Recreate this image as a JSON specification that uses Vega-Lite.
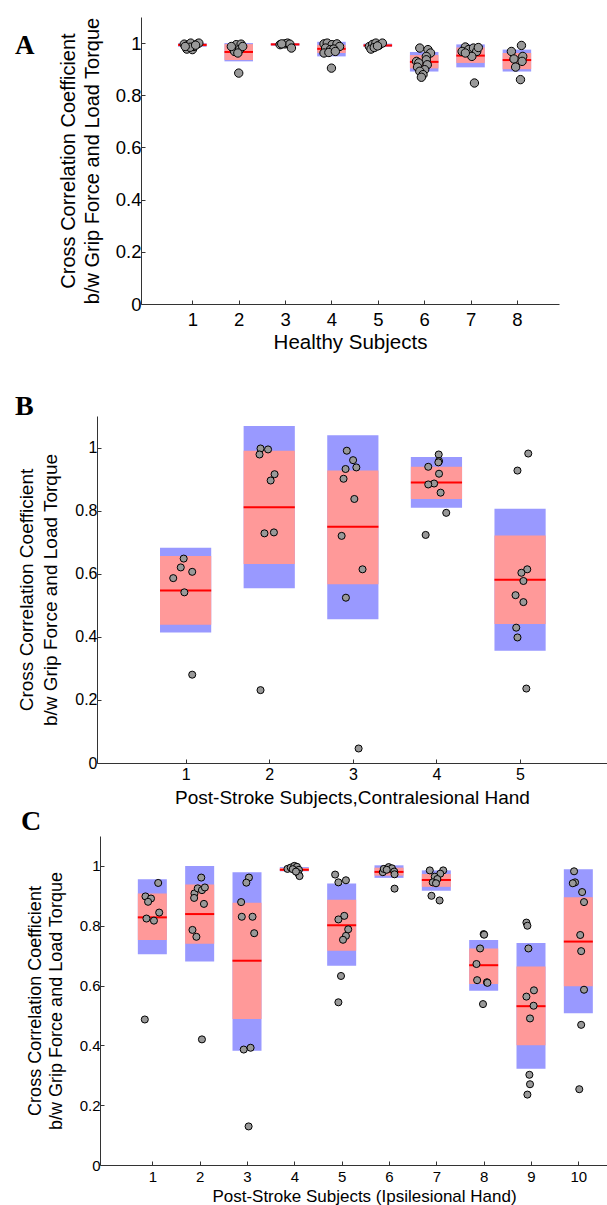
{
  "$schema": "https://vega.github.io/schema/vega-lite/v6.json",
  "padding": {"left": 15, "top": 17, "right": 0, "bottom": 0},
  "autosize": {"type": "pad"},
  "background": "white",
  "spacing": 40,
  "datasets": {
    "barsA": [
      {"subject": 1, "mean": 0.993, "pink_lo": 0.988, "pink_hi": 0.998, "blue_lo": 0.986, "blue_hi": 1.0},
      {"subject": 2, "mean": 0.966, "pink_lo": 0.935, "pink_hi": 0.996, "blue_lo": 0.930, "blue_hi": 1.0},
      {"subject": 3, "mean": 0.995, "pink_lo": 0.992, "pink_hi": 0.998, "blue_lo": 0.990, "blue_hi": 1.0},
      {"subject": 4, "mean": 0.978, "pink_lo": 0.962, "pink_hi": 0.993, "blue_lo": 0.949, "blue_hi": 1.005},
      {"subject": 5, "mean": 0.991, "pink_lo": 0.987, "pink_hi": 0.995, "blue_lo": 0.985, "blue_hi": 0.998},
      {"subject": 6, "mean": 0.928, "pink_lo": 0.903, "pink_hi": 0.954, "blue_lo": 0.891, "blue_hi": 0.966},
      {"subject": 7, "mean": 0.952, "pink_lo": 0.924, "pink_hi": 0.983, "blue_lo": 0.907, "blue_hi": 0.995},
      {"subject": 8, "mean": 0.935, "pink_lo": 0.900, "pink_hi": 0.962, "blue_lo": 0.891, "blue_hi": 0.975}
    ],
    "pointsA": [
      {"subject": 1, "x": 0.825, "r": 0.996}, {"subject": 1, "x": 0.895, "r": 0.99}, {"subject": 1, "x": 0.965, "r": 1.0},
      {"subject": 1, "x": 0.881, "r": 0.977}, {"subject": 1, "x": 1.0, "r": 0.975}, {"subject": 1, "x": 1.035, "r": 0.987},
      {"subject": 1, "x": 1.105, "r": 0.996}, {"subject": 1, "x": 1.14, "r": 1.0}, {"subject": 1, "x": 0.951, "r": 0.984},
      {"subject": 1, "x": 0.846, "r": 0.987}, {"subject": 1, "x": 1.07, "r": 0.992},
      {"subject": 2, "x": 1.876, "r": 0.981}, {"subject": 2, "x": 1.946, "r": 0.994}, {"subject": 2, "x": 2.051, "r": 0.996},
      {"subject": 2, "x": 1.911, "r": 0.968}, {"subject": 2, "x": 2.016, "r": 0.975}, {"subject": 2, "x": 2.086, "r": 0.987},
      {"subject": 2, "x": 1.981, "r": 0.962}, {"subject": 2, "x": 1.841, "r": 0.987}, {"subject": 2, "x": 2.0, "r": 0.885},
      {"subject": 3, "x": 2.892, "r": 0.994}, {"subject": 3, "x": 2.997, "r": 0.997}, {"subject": 3, "x": 3.053, "r": 1.0},
      {"subject": 3, "x": 3.102, "r": 0.996}, {"subject": 3, "x": 3.137, "r": 0.981}, {"subject": 3, "x": 2.927, "r": 0.997},
      {"subject": 4, "x": 3.839, "r": 0.997}, {"subject": 4, "x": 3.909, "r": 1.0}, {"subject": 4, "x": 4.014, "r": 0.994},
      {"subject": 4, "x": 4.119, "r": 0.997}, {"subject": 4, "x": 4.175, "r": 0.987}, {"subject": 4, "x": 3.874, "r": 0.981},
      {"subject": 4, "x": 3.979, "r": 0.975}, {"subject": 4, "x": 4.049, "r": 0.977}, {"subject": 4, "x": 3.839, "r": 0.962},
      {"subject": 4, "x": 3.944, "r": 0.964}, {"subject": 4, "x": 4.084, "r": 0.968}, {"subject": 4, "x": 4.0, "r": 0.904},
      {"subject": 5, "x": 4.818, "r": 0.987}, {"subject": 5, "x": 4.888, "r": 0.995}, {"subject": 5, "x": 4.958, "r": 1.0},
      {"subject": 5, "x": 5.028, "r": 0.992}, {"subject": 5, "x": 5.098, "r": 1.0}, {"subject": 5, "x": 4.853, "r": 0.977},
      {"subject": 5, "x": 4.923, "r": 0.983}, {"subject": 5, "x": 4.993, "r": 0.989},
      {"subject": 6, "x": 5.905, "r": 0.981}, {"subject": 6, "x": 6.081, "r": 0.975}, {"subject": 6, "x": 6.137, "r": 0.962},
      {"subject": 6, "x": 6.046, "r": 0.949}, {"subject": 6, "x": 5.835, "r": 0.930}, {"subject": 6, "x": 6.046, "r": 0.936},
      {"subject": 6, "x": 5.884, "r": 0.924}, {"subject": 6, "x": 6.067, "r": 0.917}, {"subject": 6, "x": 5.856, "r": 0.908},
      {"subject": 6, "x": 6.011, "r": 0.898}, {"subject": 6, "x": 5.905, "r": 0.892}, {"subject": 6, "x": 5.975, "r": 0.879},
      {"subject": 6, "x": 5.94, "r": 0.869},
      {"subject": 7, "x": 6.888, "r": 0.985}, {"subject": 7, "x": 6.818, "r": 0.968}, {"subject": 7, "x": 6.958, "r": 0.975},
      {"subject": 7, "x": 7.063, "r": 0.981}, {"subject": 7, "x": 7.133, "r": 0.968}, {"subject": 7, "x": 7.028, "r": 0.949},
      {"subject": 7, "x": 7.168, "r": 0.983}, {"subject": 7, "x": 6.888, "r": 0.962}, {"subject": 7, "x": 7.084, "r": 0.847},
      {"subject": 8, "x": 8.098, "r": 0.991}, {"subject": 8, "x": 7.881, "r": 0.968}, {"subject": 8, "x": 8.126, "r": 0.949},
      {"subject": 8, "x": 7.937, "r": 0.939}, {"subject": 8, "x": 8.112, "r": 0.930}, {"subject": 8, "x": 7.972, "r": 0.908},
      {"subject": 8, "x": 8.077, "r": 0.86}
    ],
    "barsB": [
      {"subject": 1, "mean": 0.547, "pink_lo": 0.438, "pink_hi": 0.656, "blue_lo": 0.414, "blue_hi": 0.682},
      {"subject": 2, "mean": 0.811, "pink_lo": 0.631, "pink_hi": 0.990, "blue_lo": 0.554, "blue_hi": 1.068},
      {"subject": 3, "mean": 0.749, "pink_lo": 0.567, "pink_hi": 0.927, "blue_lo": 0.456, "blue_hi": 1.039},
      {"subject": 4, "mean": 0.889, "pink_lo": 0.837, "pink_hi": 0.939, "blue_lo": 0.809, "blue_hi": 0.970},
      {"subject": 5, "mean": 0.581, "pink_lo": 0.441, "pink_hi": 0.721, "blue_lo": 0.356, "blue_hi": 0.806}
    ],
    "pointsB": [
      {"subject": 1, "x": 0.977, "r": 0.648}, {"subject": 1, "x": 0.942, "r": 0.620}, {"subject": 1, "x": 1.079, "r": 0.606},
      {"subject": 1, "x": 0.852, "r": 0.586}, {"subject": 1, "x": 0.985, "r": 0.541}, {"subject": 1, "x": 1.079, "r": 0.280},
      {"subject": 2, "x": 1.896, "r": 0.997}, {"subject": 2, "x": 1.986, "r": 0.994}, {"subject": 2, "x": 1.884, "r": 0.978},
      {"subject": 2, "x": 2.064, "r": 0.9155}, {"subject": 2, "x": 2.017, "r": 0.8955}, {"subject": 2, "x": 1.943, "r": 0.728},
      {"subject": 2, "x": 2.056, "r": 0.731}, {"subject": 2, "x": 1.896, "r": 0.231},
      {"subject": 3, "x": 2.928, "r": 0.990}, {"subject": 3, "x": 3.003, "r": 0.960}, {"subject": 3, "x": 3.042, "r": 0.937},
      {"subject": 3, "x": 2.913, "r": 0.932}, {"subject": 3, "x": 2.889, "r": 0.901}, {"subject": 3, "x": 3.018, "r": 0.837},
      {"subject": 3, "x": 2.866, "r": 0.720}, {"subject": 3, "x": 3.116, "r": 0.614}, {"subject": 3, "x": 2.917, "r": 0.524},
      {"subject": 3, "x": 3.069, "r": 0.046},
      {"subject": 4, "x": 4.027, "r": 0.978}, {"subject": 4, "x": 4.031, "r": 0.957}, {"subject": 4, "x": 4.023, "r": 0.953},
      {"subject": 4, "x": 3.902, "r": 0.939}, {"subject": 4, "x": 4.031, "r": 0.917}, {"subject": 4, "x": 3.972, "r": 0.886},
      {"subject": 4, "x": 3.902, "r": 0.883}, {"subject": 4, "x": 4.05, "r": 0.857}, {"subject": 4, "x": 4.117, "r": 0.793},
      {"subject": 4, "x": 3.871, "r": 0.723},
      {"subject": 5, "x": 5.098, "r": 0.981}, {"subject": 5, "x": 4.969, "r": 0.927}, {"subject": 5, "x": 5.086, "r": 0.614},
      {"subject": 5, "x": 5.016, "r": 0.603}, {"subject": 5, "x": 5.04, "r": 0.577}, {"subject": 5, "x": 4.946, "r": 0.532},
      {"subject": 5, "x": 5.04, "r": 0.510}, {"subject": 5, "x": 4.954, "r": 0.429}, {"subject": 5, "x": 4.969, "r": 0.398},
      {"subject": 5, "x": 5.075, "r": 0.236}
    ],
    "barsC": [
      {"subject": 1, "mean": 0.828, "pink_lo": 0.752, "pink_hi": 0.908, "blue_lo": 0.705, "blue_hi": 0.955},
      {"subject": 2, "mean": 0.839, "pink_lo": 0.740, "pink_hi": 0.938, "blue_lo": 0.680, "blue_hi": 1.0},
      {"subject": 3, "mean": 0.683, "pink_lo": 0.488, "pink_hi": 0.877, "blue_lo": 0.382, "blue_hi": 0.979},
      {"subject": 4, "mean": 0.987, "pink_lo": 0.984, "pink_hi": 0.993, "blue_lo": 0.982, "blue_hi": 0.996},
      {"subject": 5, "mean": 0.802, "pink_lo": 0.716, "pink_hi": 0.887, "blue_lo": 0.666, "blue_hi": 0.941},
      {"subject": 6, "mean": 0.980, "pink_lo": 0.9675, "pink_hi": 0.994, "blue_lo": 0.960, "blue_hi": 1.002},
      {"subject": 7, "mean": 0.953, "pink_lo": 0.930, "pink_hi": 0.973, "blue_lo": 0.917, "blue_hi": 0.985},
      {"subject": 8, "mean": 0.668, "pink_lo": 0.605, "pink_hi": 0.724, "blue_lo": 0.583, "blue_hi": 0.752},
      {"subject": 9, "mean": 0.531, "pink_lo": 0.400, "pink_hi": 0.664, "blue_lo": 0.322, "blue_hi": 0.742},
      {"subject": 10, "mean": 0.747, "pink_lo": 0.5975, "pink_hi": 0.895, "blue_lo": 0.507, "blue_hi": 0.989}
    ],
    "pointsC": [
      {"subject": 1, "x": 1.124, "r": 0.943}, {"subject": 1, "x": 0.855, "r": 0.898}, {"subject": 1, "x": 0.972, "r": 0.891},
      {"subject": 1, "x": 0.910, "r": 0.880}, {"subject": 1, "x": 1.145, "r": 0.844}, {"subject": 1, "x": 0.876, "r": 0.824},
      {"subject": 1, "x": 1.034, "r": 0.817}, {"subject": 1, "x": 0.841, "r": 0.4865},
      {"subject": 2, "x": 2.034, "r": 0.961}, {"subject": 2, "x": 1.890, "r": 0.908}, {"subject": 2, "x": 1.883, "r": 0.893},
      {"subject": 2, "x": 1.959, "r": 0.925}, {"subject": 2, "x": 2.048, "r": 0.919}, {"subject": 2, "x": 2.11, "r": 0.928},
      {"subject": 2, "x": 2.09, "r": 0.873}, {"subject": 2, "x": 1.848, "r": 0.786}, {"subject": 2, "x": 1.931, "r": 0.763},
      {"subject": 2, "x": 2.048, "r": 0.420},
      {"subject": 3, "x": 3.041, "r": 0.961}, {"subject": 3, "x": 2.986, "r": 0.944}, {"subject": 3, "x": 2.876, "r": 0.879},
      {"subject": 3, "x": 2.890, "r": 0.830}, {"subject": 3, "x": 3.117, "r": 0.830}, {"subject": 3, "x": 3.152, "r": 0.775},
      {"subject": 3, "x": 2.931, "r": 0.386}, {"subject": 3, "x": 3.076, "r": 0.392}, {"subject": 3, "x": 3.034, "r": 0.129},
      {"subject": 4, "x": 3.855, "r": 0.99}, {"subject": 4, "x": 3.924, "r": 0.9945}, {"subject": 4, "x": 4.0, "r": 1.0},
      {"subject": 4, "x": 4.055, "r": 0.997}, {"subject": 4, "x": 4.097, "r": 0.987}, {"subject": 4, "x": 4.083, "r": 0.975},
      {"subject": 4, "x": 4.11, "r": 0.966}, {"subject": 4, "x": 3.966, "r": 0.989}, {"subject": 4, "x": 4.034, "r": 0.981},
      {"subject": 5, "x": 4.862, "r": 0.971}, {"subject": 5, "x": 4.931, "r": 0.945}, {"subject": 5, "x": 5.09, "r": 0.952},
      {"subject": 5, "x": 5.055, "r": 0.833}, {"subject": 5, "x": 4.931, "r": 0.821}, {"subject": 5, "x": 5.138, "r": 0.788},
      {"subject": 5, "x": 5.09, "r": 0.766}, {"subject": 5, "x": 5.028, "r": 0.753}, {"subject": 5, "x": 4.986, "r": 0.632},
      {"subject": 5, "x": 4.931, "r": 0.544},
      {"subject": 6, "x": 5.869, "r": 0.979}, {"subject": 6, "x": 5.89, "r": 0.990}, {"subject": 6, "x": 5.993, "r": 0.996},
      {"subject": 6, "x": 6.062, "r": 0.992}, {"subject": 6, "x": 6.11, "r": 0.981}, {"subject": 6, "x": 6.117, "r": 0.972},
      {"subject": 6, "x": 6.117, "r": 0.924}, {"subject": 6, "x": 5.952, "r": 0.987},
      {"subject": 7, "x": 6.862, "r": 0.985}, {"subject": 7, "x": 7.145, "r": 0.985}, {"subject": 7, "x": 7.083, "r": 0.974},
      {"subject": 7, "x": 6.966, "r": 0.964}, {"subject": 7, "x": 7.021, "r": 0.956}, {"subject": 7, "x": 6.924, "r": 0.945},
      {"subject": 7, "x": 6.993, "r": 0.942}, {"subject": 7, "x": 6.897, "r": 0.900}, {"subject": 7, "x": 7.069, "r": 0.8845},
      {"subject": 8, "x": 8.0, "r": 0.772}, {"subject": 8, "x": 8.01, "r": 0.77}, {"subject": 8, "x": 7.924, "r": 0.724},
      {"subject": 8, "x": 7.848, "r": 0.672}, {"subject": 8, "x": 7.862, "r": 0.618}, {"subject": 8, "x": 8.069, "r": 0.611},
      {"subject": 8, "x": 8.08, "r": 0.609}, {"subject": 8, "x": 7.986, "r": 0.538},
      {"subject": 9, "x": 8.903, "r": 0.8105}, {"subject": 9, "x": 8.924, "r": 0.800}, {"subject": 9, "x": 8.945, "r": 0.724},
      {"subject": 9, "x": 9.062, "r": 0.584}, {"subject": 9, "x": 8.903, "r": 0.563}, {"subject": 9, "x": 9.055, "r": 0.5325},
      {"subject": 9, "x": 8.979, "r": 0.490}, {"subject": 9, "x": 8.966, "r": 0.3016}, {"subject": 9, "x": 8.979, "r": 0.270},
      {"subject": 9, "x": 8.924, "r": 0.2354},
      {"subject": 10, "x": 9.91, "r": 0.982}, {"subject": 10, "x": 9.931, "r": 0.945}, {"subject": 10, "x": 9.883, "r": 0.942},
      {"subject": 10, "x": 10.08, "r": 0.9126}, {"subject": 10, "x": 10.12, "r": 0.879}, {"subject": 10, "x": 10.04, "r": 0.769},
      {"subject": 10, "x": 10.06, "r": 0.715}, {"subject": 10, "x": 10.12, "r": 0.586}, {"subject": 10, "x": 10.06, "r": 0.4686},
      {"subject": 10, "x": 10.02, "r": 0.2534}
    ]
  },
  "vconcat": [
    {
      "title": {"text": "A", "anchor": "start", "frame": "group", "dx": -82, "dy": 64, "offset": 0, "baseline": "alphabetic", "font": "Liberation Serif", "fontSize": 27, "fontWeight": "bold", "color": "black"},
      "width": 462,
      "height": 287,
      "layer": [
        {
          "data": {"name": "barsA"},
          "mark": {"type": "bar", "width": 28.5, "color": "#9999ff"},
          "encoding": {
            "x": {"field": "subject", "type": "quantitative", "scale": {"domain": [0, 8.8], "range": [44, 462], "nice": false, "zero": false},
                  "axis": {"values": [1, 2, 3, 4, 5, 6, 7, 8], "format": "d", "title": "Healthy Subjects", "labelFontSize": 18.5, "titleFontSize": 20.5, "labelPadding": 10, "titlePadding": 4}},
            "y": {"field": "blue_lo", "type": "quantitative", "scale": {"domain": [0, 1.1], "nice": false},
                  "axis": {"offset": -44, "values": [0, 0.2, 0.4, 0.6, 0.8, 1], "format": "~g", "title": ["Cross Correlation Coefficient", "b/w Grip Force and Load Torque"], "labelFontSize": 18.5, "titleFontSize": 20, "titleLineHeight": 24, "labelPadding": 4, "titlePadding": 13}},
            "y2": {"field": "blue_hi"}
          }
        },
        {
          "data": {"name": "barsA"},
          "mark": {"type": "bar", "width": 28.5, "color": "#ff9999"},
          "encoding": {
            "x": {"field": "subject", "type": "quantitative"},
            "y": {"field": "pink_lo", "type": "quantitative"},
            "y2": {"field": "pink_hi"}
          }
        },
        {
          "data": {"name": "barsA"},
          "mark": {"type": "tick", "orient": "horizontal", "size": 28.5, "thickness": 2, "color": "#ff0000", "opacity": 1},
          "encoding": {
            "x": {"field": "subject", "type": "quantitative"},
            "y": {"field": "mean", "type": "quantitative"}
          }
        },
        {
          "data": {"name": "pointsA"},
          "mark": {"type": "point", "shape": "circle", "filled": true, "fill": "#999999", "stroke": "#000000", "strokeWidth": 1, "size": 70, "opacity": 1},
          "encoding": {
            "x": {"field": "x", "type": "quantitative"},
            "y": {"field": "r", "type": "quantitative"}
          }
        }
      ]
    },
    {
      "spacing": 0,
      "vconcat": [
        {
          "title": {"text": "B", "anchor": "start", "frame": "group", "dx": -82, "dy": 27, "offset": 0, "baseline": "alphabetic", "font": "Liberation Serif", "fontSize": 28, "fontWeight": "bold", "color": "black"},
          "width": 510,
          "height": 347,
          "layer": [
            {
              "data": {"name": "barsB"},
              "mark": {"type": "bar", "width": 51.2, "color": "#9999ff"},
              "encoding": {
                "x": {"field": "subject", "type": "quantitative", "scale": {"domain": [0, 5.98], "nice": false, "zero": false},
                      "axis": {"values": [1, 2, 3, 4, 5], "format": "d", "title": "Post-Stroke Subjects,Contralesional Hand", "labelFontSize": 16, "titleFontSize": 19, "labelPadding": 7.5, "titlePadding": 6}},
                "y": {"field": "blue_lo", "type": "quantitative", "scale": {"domain": [0, 1.1], "nice": false},
                      "axis": {"values": [0, 0.2, 0.4, 0.6, 0.8, 1], "format": "~g", "title": ["Cross Correlation Coefficient", "b/w Grip Force and Load Torque"], "labelFontSize": 16, "titleFontSize": 19, "titleLineHeight": 24, "labelPadding": 4, "titlePadding": 14}},
                "y2": {"field": "blue_hi"}
              }
            },
            {
              "data": {"name": "barsB"},
              "mark": {"type": "bar", "width": 51.2, "color": "#ff9999"},
              "encoding": {
                "x": {"field": "subject", "type": "quantitative"},
                "y": {"field": "pink_lo", "type": "quantitative"},
                "y2": {"field": "pink_hi"}
              }
            },
            {
              "data": {"name": "barsB"},
              "mark": {"type": "tick", "orient": "horizontal", "size": 51.2, "thickness": 2, "color": "#ff0000", "opacity": 1},
              "encoding": {
                "x": {"field": "subject", "type": "quantitative"},
                "y": {"field": "mean", "type": "quantitative"}
              }
            },
            {
              "data": {"name": "pointsB"},
              "mark": {"type": "point", "shape": "circle", "filled": true, "fill": "#999999", "stroke": "#000000", "strokeWidth": 1, "size": 50, "opacity": 1},
              "encoding": {
                "x": {"field": "x", "type": "quantitative"},
                "y": {"field": "r", "type": "quantitative"}
              }
            }
          ]
        },
        {
          "title": {"text": "C", "anchor": "start", "frame": "group", "dx": -76, "dy": 22, "offset": 0, "baseline": "alphabetic", "font": "Liberation Serif", "fontSize": 28, "fontWeight": "bold", "color": "black"},
          "width": 510,
          "height": 329,
          "layer": [
            {
              "data": {"name": "barsC"},
              "mark": {"type": "bar", "width": 29, "color": "#9999ff"},
              "encoding": {
                "x": {"field": "subject", "type": "quantitative", "scale": {"domain": [0, 10.5], "range": [3, 510], "nice": false, "zero": false},
                      "axis": {"values": [1, 2, 3, 4, 5, 6, 7, 8, 9, 10], "format": "d", "title": "Post-Stroke Subjects (Ipsilesional Hand)", "titleX": 267, "labelFontSize": 15, "titleFontSize": 17, "labelPadding": 8.5, "titlePadding": 4}},
                "y": {"field": "blue_lo", "type": "quantitative", "scale": {"domain": [0, 1.1], "nice": false},
                      "axis": {"offset": -3, "values": [0, 0.2, 0.4, 0.6, 0.8, 1], "format": "~g", "title": ["Cross Correlation Coefficient", "b/w Grip Force and Load Torque"], "labelFontSize": 15, "titleFontSize": 18, "titleLineHeight": 21, "labelPadding": 4, "titlePadding": 14}},
                "y2": {"field": "blue_hi"}
              }
            },
            {
              "data": {"name": "barsC"},
              "mark": {"type": "bar", "width": 29, "color": "#ff9999"},
              "encoding": {
                "x": {"field": "subject", "type": "quantitative"},
                "y": {"field": "pink_lo", "type": "quantitative"},
                "y2": {"field": "pink_hi"}
              }
            },
            {
              "data": {"name": "barsC"},
              "mark": {"type": "tick", "orient": "horizontal", "size": 29, "thickness": 2, "color": "#ff0000", "opacity": 1},
              "encoding": {
                "x": {"field": "subject", "type": "quantitative"},
                "y": {"field": "mean", "type": "quantitative"}
              }
            },
            {
              "data": {"name": "pointsC"},
              "mark": {"type": "point", "shape": "circle", "filled": true, "fill": "#999999", "stroke": "#000000", "strokeWidth": 1, "size": 50, "opacity": 1},
              "encoding": {
                "x": {"field": "x", "type": "quantitative"},
                "y": {"field": "r", "type": "quantitative"}
              }
            }
          ]
        }
      ]
    }
  ],
  "config": {
    "view": {"stroke": null},
    "font": "Liberation Sans",
    "axis": {
      "grid": false,
      "domainColor": "#333333",
      "domainWidth": 1,
      "tickColor": "#333333",
      "tickSize": -4,
      "labelColor": "#000000",
      "titleColor": "#000000",
      "labelFont": "Liberation Sans",
      "titleFont": "Liberation Sans",
      "titleFontWeight": "normal",
      "labelOverlap": false,
      "labelFlush": false
    },
    "bar": {"stroke": null}
  }
}
